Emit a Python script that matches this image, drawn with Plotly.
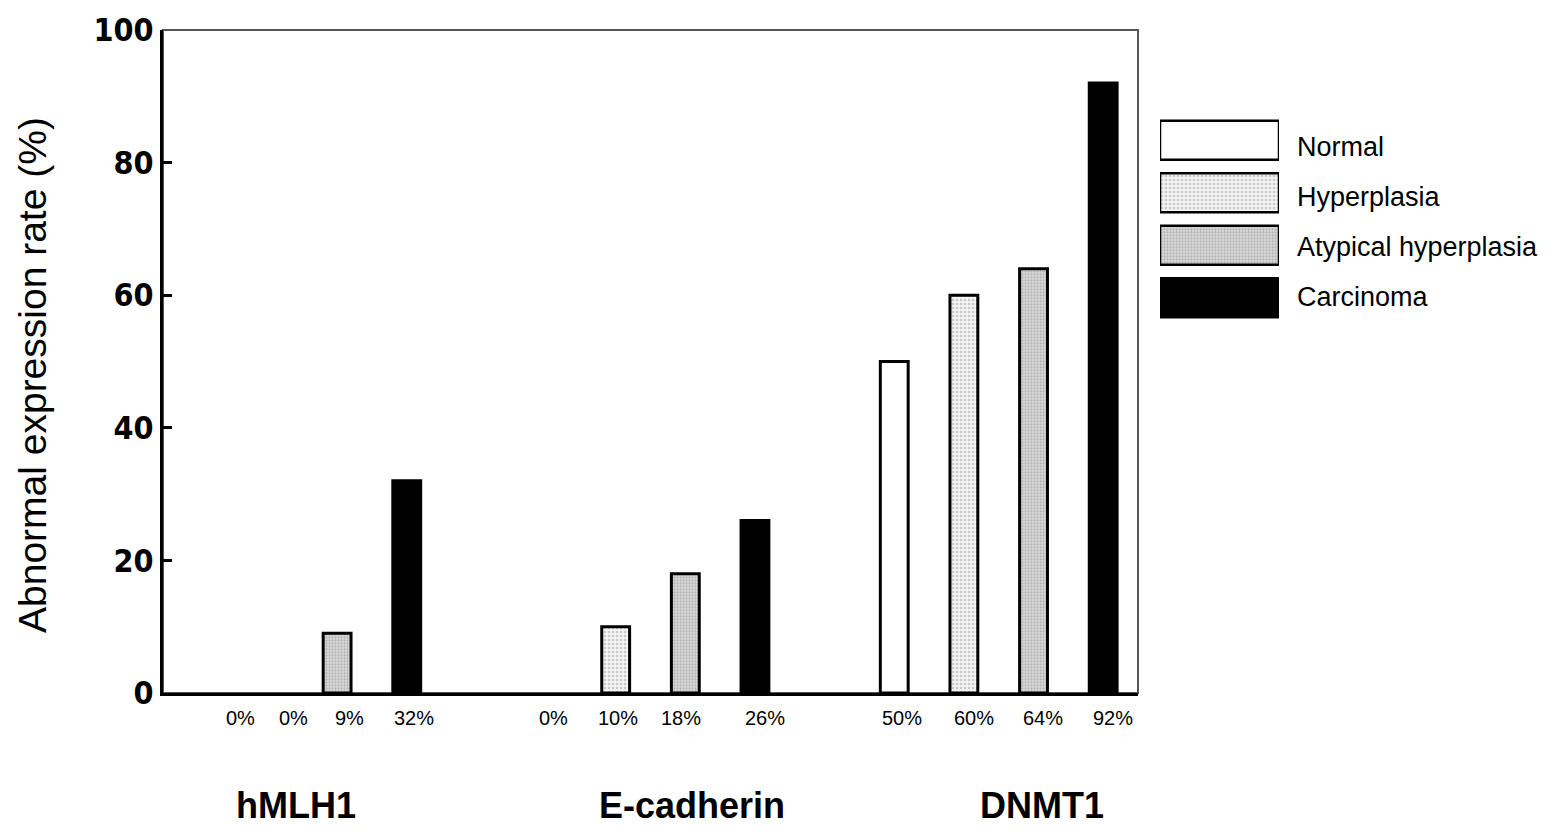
import plotly.graph_objects as go

# ---- data ----
genes = ["hMLH1", "E-cadherin", "DNMT1"]
series = ["Normal", "Hyperplasia", "Atypical hyperplasia", "Carcinoma"]
values = {
    "Normal":               [0, 0, 50],
    "Hyperplasia":          [0, 10, 60],
    "Atypical hyperplasia": [9, 18, 64],
    "Carcinoma":            [32, 26, 92],
}
y_ticks = [0, 20, 40, 60, 80, 100]

# ---- styles ----
styles = {
    "Normal":               dict(color="white", pattern=None),
    "Hyperplasia":          dict(color="white", pattern=dict(shape=".", fgcolor="#9a9a9a", bgcolor="#f4f4f4", size=4, solidity=0.35)),
    "Atypical hyperplasia": dict(color="#cfcfcf", pattern=dict(shape=".", fgcolor="#8a8a8a", bgcolor="#dcdcdc", size=3, solidity=0.45)),
    "Carcinoma":            dict(color="black", pattern=None),
}
SLOTS_PER_GROUP = 5
W, H = 1559, 837
plot_l, plot_r, plot_t, plot_b = 163, 1138, 30, 693
leg_l, leg_r, leg_t, leg_b = 1160, 1279, 114, 324

fig = go.Figure()

ann = []
label_shift = [43, 26, 12, 7, 7, 2, -4, 10, 8, 10, 9, 10]
legend_text_yshift = [-7, -4, -2, 1]

for si, s in enumerate(series):
    xs = [gi * SLOTS_PER_GROUP + si for gi in range(len(genes))]
    st = styles[s]
    marker = dict(color=st["color"],
                  line=dict(color="black", width=[3 if v > 0 else 0 for v in values[s]]))
    if st["pattern"]:
        marker["pattern"] = st["pattern"]
    fig.add_trace(go.Bar(x=xs, y=values[s], width=0.4, marker=marker,
                         name=s, showlegend=False, xaxis="x", yaxis="y"))

# percentage labels
for gi, g in enumerate(genes):
    for si, s in enumerate(series):
        idx = gi * 4 + si
        ann.append(dict(x=gi * SLOTS_PER_GROUP + si, y=0, xref="x", yref="y",
                        text=f"{values[s][gi]}%", showarrow=False,
                        xshift=label_shift[idx], yshift=-25, yanchor="middle",
                        font=dict(family="Arial, Liberation Sans", size=20, color="black")))

# gene labels
gene_shift = [-6, 41, 43]
for gi, g in enumerate(genes):
    ann.append(dict(x=gi * SLOTS_PER_GROUP + 1.5, y=0, xref="x", yref="y",
                    text=f"<b>{g}</b>", showarrow=False, xshift=gene_shift[gi],
                    yshift=-112, yanchor="middle",
                    font=dict(family="Arial, Liberation Sans", size=36, color="black")))

# y title
ann.append(dict(x=32 / W, y=1 - 375 / H, xref="paper", yref="paper",
                text="Abnormal expression rate (%)", textangle=-90, showarrow=False,
                xanchor="center", yanchor="middle",
                font=dict(family="Arial, Liberation Sans", size=39, color="black")))

# legend drawn as bars on a secondary axis
for si, s in enumerate(series):
    st = styles[s]
    marker = dict(color=st["color"], line=dict(color="black", width=2.5))
    if st["pattern"]:
        marker["pattern"] = st["pattern"]
    fig.add_trace(go.Bar(x=[1], y=[si], orientation="h", width=0.74, marker=marker,
                         showlegend=False, xaxis="x2", yaxis="y2", hoverinfo="skip"))
    ann.append(dict(x=1, y=si, xref="x2 domain", yref="y2", text=s, showarrow=False,
                    xanchor="left", yanchor="middle", xshift=16,
                    yshift=legend_text_yshift[si],
                    font=dict(family="Arial, Liberation Sans", size=27, color="black")))

fig.update_layout(
    width=W, height=H,
    margin=dict(l=0, r=0, t=0, b=0),
    paper_bgcolor="white", plot_bgcolor="white",
    barmode="overlay",
    xaxis=dict(domain=[plot_l / W, plot_r / W], range=[-0.5, 13.5],
               showticklabels=False, ticks="", showgrid=False, zeroline=False,
               showline=True, linecolor="black", linewidth=3, automargin=False),
    yaxis=dict(domain=[1 - plot_b / H, 1 - plot_t / H], range=[0, 100],
               tickvals=y_ticks, ticks="inside", ticklen=9, tickwidth=3, tickcolor="black",
               showgrid=False, zeroline=False, showline=True, linecolor="black", linewidth=3,
               tickfont=dict(family="Liberation Sans Narrow, Arial Narrow, DejaVu Sans Condensed",
                             size=32, color="black", weight="bold"),
               automargin=False),
    xaxis2=dict(domain=[leg_l / W, leg_r / W], range=[0, 1], visible=False, fixedrange=True,
                anchor="y2"),
    yaxis2=dict(domain=[1 - leg_b / H, 1 - leg_t / H], range=[3.5, -0.5], visible=False,
                anchor="x2", fixedrange=True),
    annotations=ann,
    shapes=[dict(type="rect", xref="x domain", yref="y domain", x0=0, x1=1, y0=0, y1=1,
                 line=dict(color="#555555", width=2), layer="below")],
)

fig.write_html("out.html", config={"displayModeBar": False},
               post_script="document.body.style.margin='0';document.body.style.overflow='hidden';")
